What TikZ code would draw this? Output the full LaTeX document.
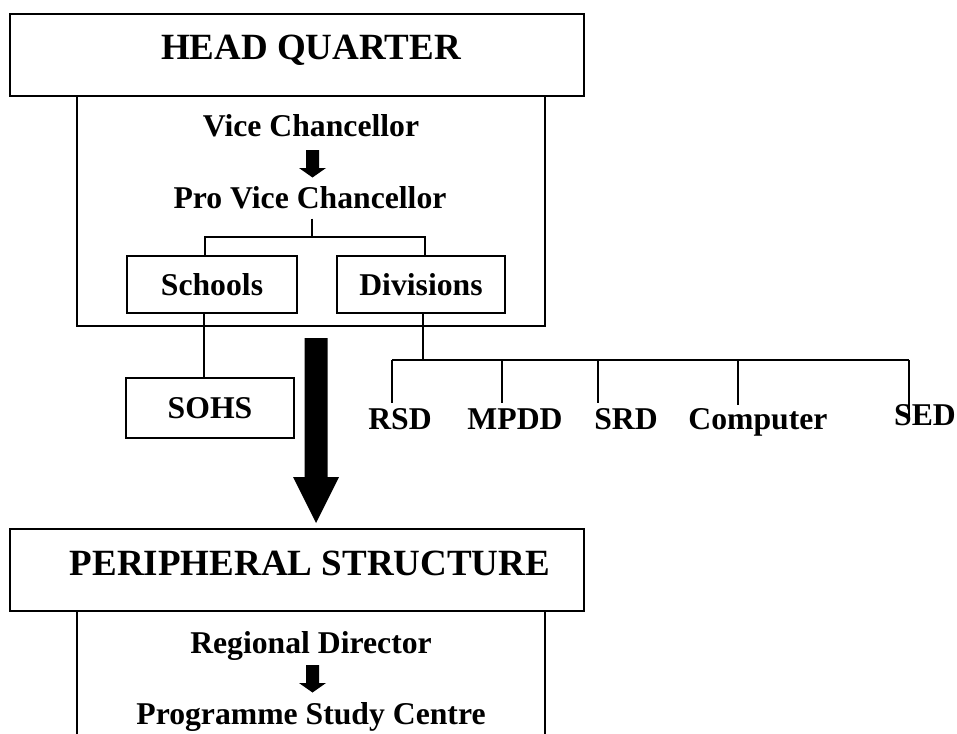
\documentclass[tikz,border=0pt]{standalone}
\usepackage{fontspec}
\setmainfont{Liberation Serif}
\begin{document}
\begin{tikzpicture}[x=1pt,y=-1pt,
  box/.style={draw, line width=1.6pt, inner sep=0pt},
  lbl/.style={font=\fontsize{31.7}{36}\selectfont\bfseries, inner sep=0pt},
  big/.style={font=\fontsize{37}{42}\selectfont\bfseries, inner sep=0pt, anchor=base},
  conn/.style={line width=1.3pt},
  smallarrow/.pic={\fill (-6.5,0) -- (6.5,0) -- (6.5,18) -- (13.5,18) -- (0,27.5) -- (-13.5,18) -- (-6.5,18) -- cycle;}
  ]
\path[use as bounding box, clip] (0,0) rectangle (957,733);

% ---------- Head quarter ----------
\node[box, minimum width=574pt, minimum height=82pt] (hq) at (297,55) {};
\node[big] (hqt) at (311,60) {HEAD QUARTER};
\node[box, minimum width=468pt, minimum height=230pt] (hqin) at (311,211) {};

\node[lbl, anchor=base] (vc) at (311,136.5) {Vice Chancellor};
\pic at (312.5,150) {smallarrow};
\node[lbl, anchor=base] (pvc) at (310,208) {Pro Vice Chancellor};

\node[box, lbl, text height=21pt, text depth=0pt, minimum width=170pt, minimum height=57pt] (sch) at (212,284.5) {Schools};
\node[box, lbl, text height=21pt, text depth=0pt, minimum width=168pt, minimum height=57pt] (div) at (421,284.5) {Divisions};

\coordinate (fork) at (312,237);
\draw[conn] ([yshift=-10pt]pvc.south -| fork) -- (fork);
\draw[conn] ([xshift=-7pt]sch.north) |- (fork) -| ([xshift=4pt]div.north);

% ---------- Schools branch ----------
\node[box, lbl, text height=21pt, text depth=0pt, minimum width=168pt, minimum height=60pt] (sohs) at (210,408) {SOHS};
\draw[conn] ([xshift=-8pt]sch.south) -- ([xshift=-8pt]sch.south |- sohs.north);

% ---------- Divisions branch ----------
\coordinate (barL) at (392,360);
\coordinate (barR) at (909,360);
\draw[conn] ([xshift=2pt]div.south) -- ([xshift=2pt]div.south |- barL);
\draw[line width=1.7pt] (barL) -- (barR);

\node[lbl, anchor=base] (rsd) at (400,429) {RSD};
\node[lbl, anchor=base] (mpdd) at (515,429) {MPDD};
\node[lbl, anchor=base] (srd) at (626,429) {SRD};
\node[lbl, anchor=base] (comp) at (758,429) {Computer};
\node[lbl, anchor=base] (sed) at (925,425) {SED};

\coordinate (rsdtop) at (392,403);
\coordinate (mpddtop) at (502,403);
\coordinate (srdtop) at (598,403);
\coordinate (comptop) at (738,405);
\coordinate (sedtop) at (909,417);
\foreach \c in {rsdtop,mpddtop,srdtop,comptop,sedtop}
  \draw[conn] (\c |- barL) -- (\c);

% ---------- Big arrow ----------
\fill (304.5,338) -- (327.5,338) -- (327.5,477) -- (339,477) -- (316,523) -- (293,477) -- (304.5,477) -- cycle;

% ---------- Peripheral structure ----------
\node[box, minimum width=574pt, minimum height=82pt] (ps) at (297,570) {};
\node[big] (pst) at (310,575) {PERIPHERAL STRUCTURE};
\node[box, minimum width=468pt, minimum height=140pt] (psin) at (311,681) {};

\node[lbl, anchor=base] (rd) at (311,653) {Regional Director};
\pic at (312.5,665) {smallarrow};
\node[lbl, anchor=base] (psc) at (311,724.5) {Programme Study Centre};
\end{tikzpicture}
\end{document}
